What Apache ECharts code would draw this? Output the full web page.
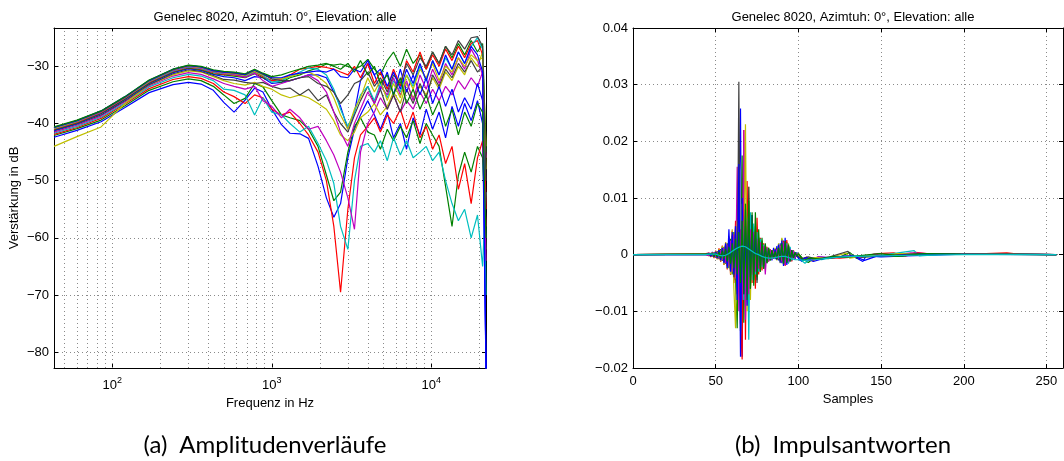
<!DOCTYPE html>
<html>
<head>
<meta charset="utf-8">
<script src="https://cdn.jsdelivr.net/npm/echarts@6/dist/echarts.min.js"></script>
<style>
  html, body { margin: 0; padding: 0; background: #fff; }
  #chart { width: 1064px; height: 461px; }
</style>
</head>
<body>
<div id="chart"></div>
<script>
// ---- left panel: magnitude responses (dB over Hz) ----
const frequencies = [43.07, 60, 85, 120, 170, 240, 300, 360, 430,
  500, 580, 680, 780, 880,
  1000, 1150, 1300, 1500, 1700, 1950, 2200, 2450, 2700,
  3000, 3300, 3600, 4000, 4400, 4800, 5300, 5800, 6400, 7000, 7700, 8500, 9300,
  10200, 11200, 12300, 13500, 14800, 16200, 17800, 19500, 21000, 22050];

const mag01 = [-42.4, -41.2, -39.7, -37.2, -34.6, -33.2, -32.8, -33.1, -34.2,
  -36.3, -38.0, -35.9, -33.8, -34.5,
  -37.5, -40.2, -41.7, -41.8, -42.6, -47.5, -53.0, -56.4, -54.0,
  -46.0, -41.0, -38.5, -36.0, -38.5, -41.0, -38.0, -42.5, -40.0, -44.5, -39.0, -42.0, -37.5,
  -41.0, -38.0, -42.5, -37.0, -40.5, -36.5, -39.5, -36.0, -40.0, -83.0];
const mag02 = [-42.1, -40.9, -39.4, -36.9, -34.2, -32.7, -32.2, -32.5, -33.5,
  -35.0, -36.5, -35.6, -33.0, -33.6,
  -36.0, -38.5, -39.0, -39.5, -41.0, -44.0, -49.0, -53.5, -52.0,
  -45.0, -40.5, -39.0, -41.5, -42.0, -44.5, -41.0, -43.0, -40.5, -42.5, -39.5, -43.5, -40.0,
  -42.0, -44.0, -51.0, -58.0, -49.0, -45.0, -48.5, -44.0, -46.0, -62.0];
const mag03 = [-41.9, -40.7, -39.1, -36.6, -33.9, -32.3, -31.8, -32.1, -33.0,
  -34.5, -35.3, -36.5, -35.0, -35.5,
  -37.5, -38.5, -38.0, -40.0, -42.0, -45.0, -50.0, -58.0, -69.5,
  -55.0, -46.0, -42.0, -40.5, -39.0, -41.5, -38.5, -40.0, -37.5, -41.0, -38.0, -42.5, -40.5,
  -44.5, -42.0, -47.0, -44.0, -51.5, -47.0, -54.0, -46.0, -43.0, -58.0];
const mag04 = [-41.7, -40.5, -38.9, -36.4, -33.6, -32.0, -31.4, -31.7, -32.5,
  -34.0, -34.2, -35.0, -38.5, -35.5,
  -38.0, -38.5, -40.0, -41.5, -40.5, -43.5, -46.5, -50.5, -58.0,
  -62.0, -50.0, -44.0, -43.5, -45.0, -43.0, -46.5, -42.5, -45.5, -43.0, -46.0, -45.0, -44.0,
  -46.5, -45.0, -50.0, -54.0, -57.0, -55.0, -60.0, -56.0, -65.0, -52.0];
const mag05 = [-41.5, -40.3, -38.7, -36.2, -33.4, -31.7, -31.1, -31.4, -32.2,
  -33.0, -33.5, -34.0, -33.5, -36.0,
  -37.0, -39.0, -37.5, -39.0, -41.0, -40.5, -43.0, -45.5, -48.5,
  -53.0, -58.5, -45.0, -40.0, -38.0, -35.5, -37.5, -35.0, -38.0, -36.0, -37.5, -34.5, -36.5,
  -34.0, -36.0, -33.5, -35.0, -32.5, -34.0, -32.0, -33.5, -31.0, -46.0];
const mag06 = [-44.0, -42.3, -40.6, -36.5, -33.2, -31.5, -30.8, -31.0, -31.8,
  -32.5, -33.0, -33.3, -32.8, -33.5,
  -34.0, -35.0, -35.5, -35.0, -35.5, -36.5, -37.5, -39.5, -42.0,
  -43.0, -41.5, -39.0, -38.0, -36.5, -38.5, -37.0, -34.5, -36.5, -33.0, -35.5, -33.5, -35.0,
  -32.0, -34.0, -31.0, -32.5, -30.0, -31.5, -28.5, -30.0, -27.5, -44.0];
const mag07 = [-41.3, -40.1, -38.5, -36.0, -33.2, -31.3, -30.6, -30.9, -31.6,
  -32.3, -32.4, -32.8, -33.0, -32.8,
  -33.5, -34.0, -33.8, -35.0, -34.0, -36.0, -35.0, -38.0, -40.0,
  -41.5, -38.5, -36.0, -33.5, -36.5, -34.0, -37.5, -35.0, -38.0, -34.0, -36.5, -33.0, -35.5,
  -31.5, -33.5, -30.5, -32.0, -29.5, -31.0, -29.0, -31.0, -30.0, -60.0];
const mag08 = [-41.2, -40.0, -38.3, -35.8, -33.0, -31.1, -30.4, -30.7, -31.4,
  -31.8, -32.0, -32.5, -31.8, -32.0,
  -33.0, -32.8, -32.5, -32.0, -31.5, -31.5, -32.0, -34.5, -37.0,
  -41.0, -38.0, -32.5, -29.5, -31.5, -34.0, -31.0, -35.0, -30.5, -34.5, -31.5, -35.0, -32.0,
  -36.5, -33.5, -37.0, -34.0, -38.0, -35.5, -37.5, -33.0, -36.0, -83.0];
const mag09 = [-41.1, -39.9, -38.2, -35.7, -32.9, -31.0, -30.3, -30.6, -31.3,
  -31.5, -31.7, -32.0, -31.3, -32.0,
  -32.5, -32.8, -32.0, -31.5, -30.8, -30.3, -29.6, -29.8, -29.6,
  -30.0, -30.5, -30.0, -28.8, -30.5, -31.5, -29.0, -27.5, -30.0, -27.0, -29.5, -28.0, -30.5,
  -27.5, -29.5, -26.5, -28.5, -26.0, -28.0, -25.5, -27.5, -26.0, -45.0];
const mag10 = [-41.0, -39.8, -38.1, -35.6, -32.8, -30.9, -30.2, -30.5, -31.1,
  -31.4, -31.5, -31.9, -31.0, -31.8,
  -32.5, -32.3, -31.5, -30.5, -30.3, -30.0, -30.2, -30.5, -31.0,
  -31.5, -30.0, -32.0, -29.5, -33.0, -31.0, -34.0, -30.5, -33.5, -29.0, -31.0, -27.5, -30.5,
  -28.0, -30.0, -27.0, -29.0, -26.5, -28.5, -26.0, -25.5, -28.0, -55.0];
const mag11 = [-40.9, -39.7, -38.0, -35.5, -32.7, -30.8, -30.1, -30.4, -31.0,
  -31.3, -31.4, -31.8, -30.9, -31.6,
  -32.8, -32.5, -31.8, -31.0, -30.3, -30.5, -31.5, -34.0, -37.5,
  -40.5, -38.0, -35.0, -33.5, -36.0, -33.0, -35.5, -32.5, -34.5, -31.5, -33.5, -30.0, -32.5,
  -29.0, -31.5, -28.5, -30.5, -27.5, -29.5, -26.5, -25.0, -27.0, -70.0];
const mag12 = [-40.8, -39.6, -38.0, -35.5, -32.6, -30.7, -30.0, -30.3, -30.9,
  -31.2, -31.4, -31.9, -31.2, -32.5,
  -33.5, -33.0, -32.5, -32.0, -31.5, -32.5, -34.5, -38.0, -41.5,
  -44.0, -40.0, -37.5, -34.5, -36.5, -33.5, -35.0, -32.0, -35.0, -32.5, -36.0, -31.5, -34.0,
  -30.5, -33.0, -29.5, -31.5, -28.5, -30.5, -27.0, -29.0, -31.5, -64.0];
const mag13 = [-40.8, -39.6, -37.9, -35.4, -32.6, -30.6, -29.95, -30.2, -30.8,
  -31.1, -31.3, -31.6, -30.8, -31.5,
  -32.0, -32.2, -31.8, -31.3, -31.0, -31.8, -33.0, -35.5, -38.5,
  -41.0, -37.5, -35.5, -32.0, -34.5, -32.5, -36.0, -33.0, -35.5, -31.5, -34.0, -30.5, -32.0,
  -29.5, -32.5, -30.0, -31.0, -28.5, -30.0, -28.0, -29.0, -28.5, -48.0];
const mag14 = [-40.7, -39.5, -37.9, -35.4, -32.5, -30.6, -29.9, -30.1, -30.8,
  -31.0, -31.2, -31.5, -30.7, -31.4,
  -32.2, -32.5, -32.5, -32.0, -31.8, -33.0, -33.5, -34.5, -36.5,
  -35.0, -33.0, -32.5, -31.0, -33.5, -32.0, -34.5, -31.5, -33.0, -29.5, -31.5, -28.5, -30.0,
  -27.5, -29.5, -26.5, -28.0, -25.5, -27.0, -25.0, -24.8, -26.5, -50.0];
const mag15 = [-40.7, -39.5, -37.8, -35.3, -32.5, -30.5, -29.85, -30.1, -30.7,
  -31.0, -31.1, -31.4, -30.6, -31.3,
  -32.0, -32.0, -31.5, -31.2, -31.0, -30.8, -31.0, -30.5, -31.8,
  -32.0, -30.5, -31.0, -29.0, -31.5, -30.5, -33.5, -31.0, -34.0, -30.5, -33.0, -29.5, -32.5,
  -29.0, -31.5, -28.0, -30.5, -27.5, -29.5, -26.5, -28.0, -31.0, -83.0];
const mag16 = [-40.6, -39.4, -37.8, -35.3, -32.4, -30.5, -29.8, -30.0, -30.6,
  -30.9, -31.0, -31.3, -30.5, -31.2,
  -31.8, -31.5, -31.0, -30.5, -30.0, -29.8, -29.5, -30.0, -30.5,
  -29.5, -31.0, -29.0, -31.5, -30.0, -33.0, -31.5, -35.0, -32.0, -36.5, -34.0, -37.5, -35.0,
  -38.5, -36.0, -40.5, -37.5, -42.0, -38.0, -40.5, -36.5, -38.0, -60.0];

const magnitudeSeries = [mag01, mag02, mag03, mag04, mag05, mag06, mag07, mag08,
  mag09, mag10, mag11, mag12, mag13, mag14, mag15, mag16];

const freqTickValues = [100, 1000, 10000];
const freqTickExponents = ['2', '3', '4'];
const freqGridLines = [50, 60, 70, 80, 90, 100, 200, 300, 400, 500, 600, 700, 800, 900,
  1000, 2000, 3000, 4000, 5000, 6000, 7000, 8000, 9000, 10000, 20000];

// ---- right panel: impulse responses ----
const impulseStart = 44; // first sample of the arrays below
const impulseA = [0.0001, -0.0002, 0.0003, -0.0003, 0.0005, -0.0004, 0.0006, -0.0007, 0.0009,
  -0.0010, 0.0013, -0.0012, 0.0018, -0.0020, 0.0025, -0.0030, 0.0035,
  -0.0045, 0.0030, -0.0060, 0.0090, 0.0258,
  -0.0180, 0.0110, -0.0060, 0.0070, -0.0040, 0.0050, -0.0030,
  0.0040, -0.0035, 0.0030, -0.0025, 0.0020, -0.0020, 0.0012, -0.0015,
  0.0010, -0.0012, 0.0008, -0.0010, 0.0012, -0.0008, 0.0015, -0.0010,
  0.0020, -0.0015, 0.0025, -0.0018, 0.0022, -0.0015, 0.0012, -0.0010,
  0.0006, -0.0008, 0.0004, -0.0005];
const impulseB = [0.0, 0.0001, -0.0002, 0.0002, -0.0003, 0.0004, -0.0005, 0.0006, -0.0008,
  0.0010, -0.0011, 0.0014, -0.0016, 0.0020, -0.0024, 0.0028, -0.0035,
  0.0040, -0.0050, -0.0130, 0.0080, -0.0060,
  0.0175, -0.0120, 0.0090, -0.0070, 0.0060, -0.0050, 0.0075,
  -0.0040, 0.0050, -0.0045, 0.0030, -0.0030, 0.0025, -0.0020, 0.0018,
  -0.0015, 0.0012, -0.0010, 0.0008, -0.0006, 0.0010, -0.0008, 0.0014,
  -0.0012, 0.0028, -0.0016, 0.0022, -0.0014, 0.0015, -0.0010, 0.0008,
  -0.0006, 0.0004, -0.0003, 0.0002];
const impulseC = [0.0002, -0.0001, 0.0003, -0.0004, 0.0004, -0.0006, 0.0007, -0.0008, 0.0011,
  -0.0013, 0.0016, -0.0018, 0.0022, -0.0026, 0.0032, -0.0036, 0.0042,
  -0.0050, 0.0060, -0.0070, 0.0050, -0.0120,
  -0.0185, 0.0220, -0.0150, 0.0130, -0.0080, 0.0060, -0.0050,
  0.0045, -0.0060, 0.0065, -0.0035, 0.0030, -0.0028, 0.0020, -0.0018,
  0.0014, -0.0012, 0.0010, -0.0008, 0.0006, -0.0005, 0.0010, -0.0008,
  0.0016, -0.0012, 0.0024, -0.0020, 0.0026, -0.0015, 0.0010, -0.0012,
  0.0008, -0.0006, 0.0003, -0.0004];
const impulseD = [0.0001, -0.0001, 0.0002, -0.0002, 0.0003, -0.0003, 0.0004, -0.0005, 0.0006,
  -0.0007, 0.0009, -0.0010, 0.0012, -0.0015, 0.0018, -0.0022, 0.0026,
  -0.0030, 0.0036, -0.0042, 0.0050, -0.0060,
  0.0070, -0.0080, 0.0080, 0.0060, -0.0150, 0.0075, -0.0045,
  0.0055, -0.0035, 0.0040, -0.0030, 0.0028, -0.0022, 0.0018, -0.0016,
  0.0012, -0.0010, 0.0008, -0.0007, 0.0006, -0.0005, 0.0008, -0.0007,
  0.0012, -0.0010, 0.0018, -0.0014, 0.0020, -0.0016, 0.0014, -0.0010,
  0.0007, -0.0005, 0.0004, -0.0003];
const impulseE = [0.0, 0.0002, -0.0002, 0.0003, -0.0003, 0.0004, -0.0005, 0.0005, -0.0007,
  0.0008, -0.0010, 0.0012, -0.0015, 0.0018, -0.0021, 0.0025, -0.0030,
  0.0036, -0.0042, 0.0155, -0.0100, 0.0045,
  -0.0080, 0.0220, -0.0115, 0.0060, -0.0070, 0.0045, -0.0035,
  0.0040, -0.0030, 0.0028, -0.0025, 0.0022, -0.0018, 0.0015, -0.0035,
  0.0012, -0.0010, 0.0009, -0.0008, 0.0007, -0.0006, 0.0009, -0.0007,
  0.0015, -0.0012, 0.0022, -0.0018, 0.0018, -0.0012, 0.0010, -0.0008,
  0.0006, -0.0005, 0.0003, -0.0002];
const impulseF = [0.0001, -0.0002, 0.0002, -0.0003, 0.0004, -0.0005, 0.0006, -0.0008, 0.0010,
  -0.0012, 0.0015, -0.0018, 0.0022, -0.0025, 0.0030, -0.0035, 0.0045,
  -0.0060, -0.0130, 0.0060, 0.0040, -0.0070,
  0.0090, -0.0060, 0.0230, -0.0100, 0.0120, -0.0080, 0.0060,
  -0.0050, 0.0040, -0.0035, 0.0030, -0.0025, 0.0022, -0.0018, 0.0015,
  -0.0012, 0.0010, -0.0009, 0.0008, -0.0006, 0.0012, -0.0010, 0.0020,
  -0.0015, 0.0030, -0.0018, 0.0025, -0.0015, 0.0020, -0.0012, 0.0008,
  -0.0005, 0.0004, -0.0003, 0.0002];
const impulseG = [0.0001, -0.0001, 0.0002, -0.0003, 0.0003, -0.0004, 0.0005, -0.0006, 0.0008,
  -0.0009, 0.0011, -0.0013, 0.0016, -0.0019, 0.0023, -0.0028, 0.0033,
  -0.0040, 0.0050, -0.0070, 0.0305, -0.0135,
  0.0060, -0.0050, 0.0080, -0.0040, 0.0120, -0.0060, 0.0050,
  -0.0045, 0.0035, -0.0050, 0.0030, -0.0028, 0.0022, -0.0025, 0.0015,
  -0.0012, 0.0010, -0.0008, 0.0007, -0.0006, 0.0008, -0.0009, 0.0012,
  -0.0010, 0.0016, -0.0014, 0.0020, -0.0012, 0.0015, -0.0010, 0.0006,
  -0.0004, 0.0003, -0.0002, 0.0001];
const impulseH = [0.0, -0.0001, 0.0002, -0.0002, 0.0003, -0.0004, 0.0005, -0.0006, 0.0008,
  -0.0010, 0.0012, -0.0015, 0.0020, -0.0024, 0.0045, -0.0030, 0.0040,
  -0.0035, 0.0050, -0.0080, 0.0160, -0.0180,
  0.0100, -0.0070, 0.0050, -0.0090, 0.0060, -0.0040, 0.0070,
  -0.0030, 0.0035, -0.0028, 0.0025, -0.0020, 0.0018, -0.0015, 0.0012,
  -0.0010, 0.0008, -0.0007, 0.0006, -0.0005, 0.0010, -0.0008, 0.0018,
  -0.0014, 0.0025, -0.0020, 0.0030, -0.0018, 0.0015, -0.0012, 0.0008,
  -0.0006, 0.0004, -0.0002, 0.0001];
const impulseI = [0.0001, -0.0001, 0.0001, -0.0002, 0.0002, -0.0003, 0.0003, -0.0004, 0.0005,
  -0.0006, 0.0007, -0.0008, 0.0010, -0.0012, 0.0014, -0.0016, 0.0020,
  -0.0024, 0.0028, -0.0035, 0.0040, -0.0050,
  0.0060, -0.0070, 0.0090, -0.0080, 0.0095, -0.0060, 0.0070,
  -0.0055, 0.0075, -0.0040, 0.0045, -0.0030, 0.0030, -0.0025, 0.0020,
  -0.0015, 0.0012, -0.0010, 0.0008, -0.0007, 0.0006, -0.0008, 0.0012,
  -0.0010, 0.0020, -0.0016, 0.0024, -0.0014, 0.0018, -0.0012, 0.0008,
  -0.0006, 0.0004, -0.0003, 0.0002];
const impulseJ = [0.0, 0.0, 0.0001, 0.0001, 0.0001, 0.0001, 0.0001, 0.0, -0.0001,
  -0.0001, -0.0002, -0.0002, -0.0001, 0.0, 0.0002, 0.0004, 0.0006,
  0.0008, 0.0010, 0.0012, 0.0013, 0.0014,
  0.0015, 0.0015, 0.0014, 0.0012, 0.0010, 0.0008, 0.0006,
  0.0004, 0.0002, 0.0001, 0.0, -0.0002, -0.0003, -0.0004, -0.0005,
  -0.0005, -0.0006, -0.0006, -0.0006, -0.0005, -0.0005, -0.0004, -0.0004,
  -0.0003, -0.0003, -0.0002, -0.0003, -0.0004, -0.0005, -0.0006, -0.0007,
  -0.0008, -0.0009, -0.0009, -0.0009];

// late, small ripples as [sample, value]
const tailA = [[102, -0.0012], [104, -0.0006], [107, -0.0010], [112, -0.0004], [120, -0.0006], [128, -0.0003], [134, -0.0004], [139, -0.0012], [141, -0.0002], [150, -0.0004], [165, -0.0002], [180, -0.0001], [200, 0.0001], [225, 0.0002], [256, 0]];
const tailB = [[103, -0.0008], [106, -0.0014], [110, -0.0005], [118, -0.0007], [126, -0.0003], [131, 0.0004], [135, -0.0006], [145, -0.0002], [160, -0.0003], [175, 0.0001], [200, 0.0001], [230, 0.0001], [256, 0]];
const tailC = [[102, -0.0009], [105, -0.0004], [108, -0.0011], [115, -0.0005], [125, -0.0006], [138, -0.0003], [148, 0.0002], [158, 0.0003], [165, -0.0002], [171, 0.0004], [180, 0.0001], [205, 0.0001], [226, 0.0003], [233, 0.0001], [256, 0]];
const tailD = [[101, -0.0008], [104, -0.0015], [108, -0.0006], [114, -0.0009], [122, -0.0004], [132, -0.0002], [144, -0.0003], [155, 0.0001], [170, 0.0007], [173, -0.0002], [190, 0.0001], [220, 0.0001], [256, 0]];
const tailE = [[102, -0.0006], [106, -0.0010], [112, -0.0004], [120, -0.0005], [130, -0.0002], [137, -0.0005], [146, 0.0001], [153, -0.0003], [168, 0.0003], [185, 0.0001], [210, 0.0001], [256, 0]];
const tailF = [[101, -0.0004], [104, -0.0009], [110, -0.0005], [118, -0.0006], [129, 0.0003], [131, -0.0006], [140, -0.0002], [152, -0.0002], [160, 0.0002], [180, 0.0001], [215, 0.0001], [256, 0]];
const tailG = [[102, -0.0007], [106, -0.0004], [111, -0.0008], [119, -0.0004], [130, 0.0006], [132, -0.0003], [143, -0.0004], [156, -0.0001], [172, 0.0002], [195, 0.0001], [256, 0]];
const tailH = [[101, -0.0010], [105, -0.0005], [109, -0.0012], [116, -0.0006], [124, -0.0004], [133, -0.0002], [140, -0.0010], [147, -0.0003], [162, -0.0001], [178, 0.0001], [256, 0]];
const tailI = [[103, -0.0010], [107, -0.0006], [113, -0.0008], [121, -0.0003], [128, -0.0005], [136, -0.0002], [149, 0.0002], [163, -0.0002], [176, 0.0002], [198, 0.0001], [256, 0]];
const tailJ = [[104, -0.0010], [110, -0.0009], [118, -0.0006], [126, -0.0004], [135, -0.0003], [150, -0.0002], [170, -0.0001], [200, 0], [256, 0]];

const impulseSeries = [
  [impulseA, tailA], [impulseB, tailB], [impulseC, tailC], [impulseD, tailD], [impulseE, tailE],
  [impulseF, tailF], [impulseG, tailG], [impulseH, tailH], [impulseI, tailI], [impulseJ, tailJ],
];
const impulseColors = ['#0000ff', '#008000', '#ff0000', '#00bfbf', '#bf00bf',
  '#bfbf00', '#404040', '#0000ff', '#008000', '#00bfbf'];

// MATLAB default colour order
const lineColors = ['#0000ff', '#008000', '#ff0000', '#00bfbf', '#bf00bf', '#bfbf00', '#404040'];

const FONT = '"Liberation Sans", Arial, Helvetica, sans-serif';
const CAPTION_FONT = 'Lato, "Open Sans", sans-serif';
const plotTitle = 'Genelec 8020, Azimtuh: 0°, Elevation: alle';
// MATLAB grid: sparse gray dots
const dotted = { type: [1, 3], color: '#8a8a8a', width: 1 };

function minus(text) {
  return String(text).replace('-', '\u2212');
}

function frameAxis(extra) {
  return Object.assign({
    axisLine: { show: true, onZero: false, lineStyle: { color: '#000', width: 1 } },
    axisTick: { show: true, inside: true, length: 4, lineStyle: { color: '#000' } },
    axisLabel: { show: false },
    splitLine: { show: false },
  }, extra);
}

const labelText = { color: '#000', fontFamily: FONT, fontSize: 13 };

const chart = echarts.init(document.getElementById('chart'));

const magSeriesOptions = magnitudeSeries.map((values, i) => ({
  type: 'line',
  xAxisIndex: 0,
  yAxisIndex: 0,
  data: frequencies.map((f, j) => [f, values[j]]),
  showSymbol: false,
  symbol: 'none',
  lineStyle: { width: 1.2, color: lineColors[i % lineColors.length] },
  itemStyle: { color: lineColors[i % lineColors.length] },
  z: 3,
}));

// dotted log grid, MATLAB style (minor + major decades)
magSeriesOptions[0].markLine = {
  silent: true,
  z: 1,
  symbol: ['none', 'none'],
  label: { show: false },
  lineStyle: dotted,
  emphasis: { disabled: true },
  data: freqGridLines.map((f) => ({ xAxis: f })),
};

const impulseSeriesOptions = impulseSeries.map(([values, tail], i) => ({
  type: 'line',
  xAxisIndex: 2,
  yAxisIndex: 2,
  data: [[0, 0]].concat(values.map((v, j) => [impulseStart + j, v]), tail),
  showSymbol: false,
  symbol: 'none',
  lineStyle: { width: 1.2, color: impulseColors[i] },
  itemStyle: { color: impulseColors[i] },
  z: 3,
}));

chart.setOption({
  animation: false,
  backgroundColor: '#fff',
  title: [
    { text: plotTitle, left: 270, top: 6, textAlign: 'center',
      textStyle: { fontFamily: FONT, fontSize: 13, fontWeight: 'normal', color: '#000' } },
    { text: plotTitle, left: 848, top: 6, textAlign: 'center',
      textStyle: { fontFamily: FONT, fontSize: 13, fontWeight: 'normal', color: '#000' } },
    { text: '(a)\u2002Amplitudenverläufe', left: 260, top: 428, textAlign: 'center',
      textStyle: { fontFamily: CAPTION_FONT, fontSize: 24, fontWeight: 'normal', color: '#000' } },
    { text: '(b)\u2002Impulsantworten', left: 838, top: 428, textAlign: 'center',
      textStyle: { fontFamily: CAPTION_FONT, fontSize: 24, fontWeight: 'normal', color: '#000' } },
  ],
  grid: [
    { left: 54, top: 28, width: 432, height: 340 },
    { left: 633, top: 28, width: 430, height: 340 },
  ],
  xAxis: [
    frameAxis({
      type: 'log', logBase: 10, gridIndex: 0, position: 'bottom',
      min: 43.07, max: 22050,
      name: 'Frequenz in Hz', nameLocation: 'middle', nameGap: 25,
      nameTextStyle: labelText,
      axisLabel: {
        show: true, margin: 7, color: '#000', fontFamily: FONT, fontSize: 13,
        showMinLabel: false, showMaxLabel: false,
        formatter: (v) => {
          const k = freqTickValues.findIndex((t) => Math.abs(t - v) < t * 1e-6);
          return k < 0 ? '' : '{b|10}{s|' + freqTickExponents[k] + '}';
        },
        rich: {
          b: { fontFamily: FONT, fontSize: 13, color: '#000', padding: [4, 0, 0, 0] },
          s: { fontFamily: FONT, fontSize: 9, color: '#000', padding: [0, 0, 6, 0] },
        },
      },
    }),
    frameAxis({ type: 'log', logBase: 10, gridIndex: 0, position: 'top', min: 43.07, max: 22050 }),
    frameAxis({
      type: 'value', gridIndex: 1, position: 'bottom', min: 0, max: 260, interval: 50,
      name: 'Samples', nameLocation: 'middle', nameGap: 22,
      nameTextStyle: labelText,
      axisLabel: Object.assign({ show: true, margin: 7, showMaxLabel: false }, labelText),
      splitLine: { show: true, lineStyle: dotted },
    }),
    frameAxis({ type: 'value', gridIndex: 1, position: 'top', min: 0, max: 260, interval: 50 }),
  ],
  yAxis: [
    frameAxis({
      type: 'value', gridIndex: 0, position: 'left', min: -82.75, max: -23.3,
      name: 'Verstärkung in dB', nameLocation: 'middle', nameGap: 33, nameRotate: 90,
      nameTextStyle: labelText,
      axisLabel: Object.assign({
        show: true, margin: 5, showMinLabel: false, showMaxLabel: false,
        formatter: (v) => minus(v),
      }, labelText),
      splitLine: { show: true, lineStyle: dotted },
    }),
    frameAxis({ type: 'value', gridIndex: 0, position: 'right', min: -82.75, max: -23.3 }),
    frameAxis({
      type: 'value', gridIndex: 1, position: 'left', min: -0.02, max: 0.04, interval: 0.01,
      axisLabel: Object.assign({
        show: true, margin: 5,
        formatter: (v) => (Math.abs(v) < 1e-9 ? '0' : minus(v.toFixed(2))),
      }, labelText),
      splitLine: { show: true, lineStyle: dotted },
    }),
    frameAxis({ type: 'value', gridIndex: 1, position: 'right', min: -0.02, max: 0.04, interval: 0.01 }),
  ],
  series: magSeriesOptions.concat(impulseSeriesOptions),
});
</script>
</body>
</html>
